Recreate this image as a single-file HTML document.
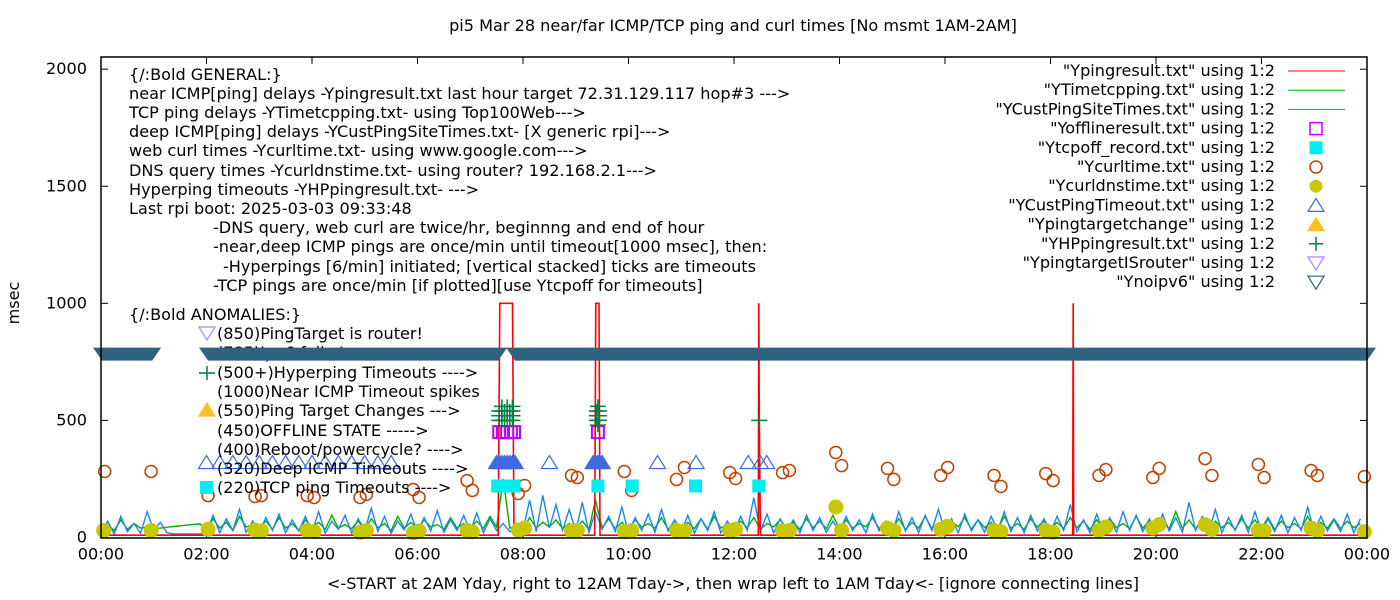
<!DOCTYPE html>
<html><head><meta charset="utf-8"><title>pi5 ping chart</title>
<style>
html,body{margin:0;padding:0;background:#fff;}
svg{display:block;font-family:"DejaVu Sans","Liberation Sans",sans-serif;}
text{fill:#000;}
</style></head>
<body>
<svg id="chart" width="1400" height="600" viewBox="0 0 1400 600" xmlns="http://www.w3.org/2000/svg">
<rect x="0" y="0" width="1400" height="600" fill="#fff"/>
<text x="733" y="31" font-size="16.1" text-anchor="middle">pi5 Mar 28  near/far ICMP/TCP ping and curl times [No msmt 1AM-2AM]</text>
<text x="733" y="589" font-size="16.1" text-anchor="middle">&lt;-START at 2AM Yday, right to 12AM Tday-&gt;, then wrap left to 1AM Tday&lt;- [ignore connecting lines]</text>
<text x="19" y="303" font-size="16.1" text-anchor="middle" transform="rotate(-90 19 303)">msec</text>
<g id="grid"></g>
<g id="series"></g>
<g id="notes" font-size="16.1"></g>
<g id="legend" font-size="16.1"></g>
<rect x="101" y="57" width="1266" height="481" fill="none" stroke="#000" stroke-width="1.5"/>
</svg>
<script>
// ---- data ----
const xTickLabels = ["00:00","02:00","04:00","06:00","08:00","10:00","12:00","14:00","16:00","18:00","20:00","22:00","00:00"];
const yTickValues = [0,500,1000,1500,2000];
// CustPingSiteTimes (blue), 8 samples per hour
const blueVals = [20,70,15,90,25,60,18,110, 30,65,20,15,15,15,15,15, 25,95,20,80,30,120,22,70,
 18,85,30,100,20,75,28,90, 22,110,18,70,35,95,20,80, 30,125,25,90,18,70,32,100,
 20,85,28,115,22,75,30,95, 25,105,20,80,30,60,25,40, 30,160,25,180,40,140,30,120,
 28,150,22,110,35,90,25,130, 20,85,30,100,22,120,28,75, 25,95,18,80,30,110,20,70,
 22,90,30,170,25,100,20,80, 28,75,20,95,30,85,22,70, 25,90,30,75,20,100,28,65,
 22,110,28,85,20,95,30,120, 25,80,20,100,28,75,22,90, 30,110,25,85,20,95,28,80,
 22,90,30,140,25,75,20,100, 28,85,22,110,30,95,25,80, 20,100,28,85,22,150,30,90,
 25,120,20,85,30,95,22,110, 28,80,25,95,20,85,30,130, 22,90,28,75,25,100,20,80];
// Timetcpping (green)
const greenVals = [40,55,30,75,35,60,40,45, 38,40,44,47,50,53,56,58, 35,80,40,65,30,90,45,55,
 42,70,35,85,40,60,30,75, 45,65,35,95,40,55,38,70, 35,80,42,60,30,90,40,65,
 38,75,45,55,35,85,40,60, 42,70,38,90,45,250,40,55, 35,85,40,65,45,75,38,60,
 40,70,35,160,42,80,38,65, 35,75,45,60,40,85,35,70, 42,65,38,80,35,90,40,55,
 38,70,42,85,35,60,45,75, 40,65,35,80,42,70,38,95, 35,75,40,60,45,85,38,70,
 42,80,35,65,40,90,38,60, 40,70,45,85,35,75,42,65, 38,90,40,60,35,80,45,70,
 40,65,38,85,42,70,35,75, 35,80,42,60,38,90,40,70, 45,65,38,110,40,75,35,85,
 38,70,42,65,35,80,40,75, 40,85,35,70,42,60,38,90, 35,65,40,80,38,70,42,60];
// Ypingresult (red) explicit points
const redHours = [0,7.53,7.56,7.80,7.83,9.36,9.38,9.44,9.46,12.46,12.47,12.48,12.50,12.51,18.42,18.43,18.44,24];
const redVals  = [10,10,1000,1000,10,10,1000,1000,10,10,1000,500,10,10,10,1000,10,10];
// Ycurltime (brown circles)
const curlHours = [0.07,0.95,2.03,2.92,3.04,3.91,4.04,4.91,5.03,5.92,6.03,6.94,7.04,7.91,8.03,8.92,9.03,9.92,10.06,10.91,11.06,11.92,12.03,12.92,13.05,13.93,14.04,14.91,15.03,15.92,16.05,16.93,17.06,17.91,18.05,18.92,19.05,19.94,20.06,20.93,21.06,21.94,22.05,22.94,23.06,23.95];
const curlVals  = [282,282,179,175,179,179,171,171,184,205,171,243,201,188,222,265,256,282,201,248,299,277,252,277,286,363,307,295,248,265,299,265,218,273,243,265,290,256,295,337,265,312,256,286,265,260];
// Ycurldnstime (yellow dots)
const dnsHours = [0.05,0.95,2.03,2.92,3.04,3.91,4.04,4.91,5.03,5.92,6.03,6.94,7.04,7.91,8.03,8.92,9.03,9.92,10.06,10.91,11.06,11.92,12.03,12.92,13.05,13.93,14.04,14.91,15.03,15.92,16.05,16.93,17.06,17.91,18.05,18.92,19.05,19.94,20.06,20.93,21.06,21.94,22.05,22.94,23.06,23.95];
const dnsVals  = [30,30,35,32,28,30,25,22,30,20,28,30,24,32,40,28,30,25,30,30,28,30,35,28,30,130,30,40,30,35,48,30,25,30,22,30,45,40,55,55,35,30,28,40,30,25];
// YCustPingTimeout (blue triangles) at 320
const cptHours = [2.0,2.25,2.5,2.75,3.0,3.25,3.5,3.75,4.0,4.25,4.5,4.75,5.0,5.25,5.5,7.5,7.55,7.6,7.65,7.7,7.75,7.8,7.85,8.5,9.33,9.38,9.42,9.46,9.5,10.55,11.28,12.27,12.5,12.62];
const cptVals  = [320,320,320,320,320,320,320,320,320,320,320,320,320,320,320,320,320,320,320,320,320,320,320,320,320,320,320,320,320,320,320,320,320,320];
const cptFilled = [0,0,0,0,0,0,0,0,0,0,0,0,0,0,0,1,1,1,1,1,1,1,1,0,1,1,1,1,1,0,0,0,0,0];
// Ytcpoff (cyan squares) at 220
const tcpoffHours = [7.52,7.6,7.68,7.76,7.83,9.42,10.07,11.27,12.47];
const tcpoffVals  = [220,220,220,220,220,220,220,220,220];
// Yofflineresult (magenta squares) at 450
const offHours = [7.55,7.62,7.70,7.77,7.83,9.42];
const offVals  = [450,450,450,450,450,450];
// YHPpingresult (green plus)
const hpHours = [7.55,7.6,7.65,7.7,7.75,7.8,7.55,7.6,7.65,7.7,7.75,7.8,7.55,7.6,7.65,7.7,7.75,7.8,7.6,7.7,7.8,9.4,9.44,9.4,9.44,9.4,9.44,9.42,9.42,12.48];
const hpVals  = [500,500,500,500,500,500,520,520,520,520,520,520,540,540,540,540,540,540,560,560,560,500,500,520,520,540,540,560,480,500];
// Ynoipv6 runs at 785 (dense once-per-minute points)
const noipv6Runs = [[0.02,0.97],[2.03,7.53],[7.85,24.0]];
const noipv6Val = 785;

// ---- scales ----
const X0=101, X1=1367, Y0=537.5, YTOP=57, YMAX=2052;
function xs(h){return X0+(X1-X0)*h/24;}
function ys(v){return Y0-(Y0-YTOP)*v/YMAX;}
const NS="http://www.w3.org/2000/svg";
function mk(tag,attrs,parent){const e=document.createElementNS(NS,tag);for(const k in attrs)e.setAttribute(k,attrs[k]);parent.appendChild(e);return e;}

const grid=document.getElementById('grid');
const series=document.getElementById('series');
const notes=document.getElementById('notes');
const legend=document.getElementById('legend');

xTickLabels.forEach((lab,i)=>{
  const x=xs(i*2);
  const t=mk('line',{x1:x,x2:x,y1:Y0,y2:Y0-7,stroke:'#000'},grid);
  
  
  const t2=mk('line',{x1:x,x2:x,y1:YTOP,y2:YTOP+7,stroke:'#000'},grid);
  
  
  const tx=mk('text',{x:x,y:Y0+22,'font-size':16.1,'text-anchor':'middle'},grid);
  tx.textContent=lab;
  
  
});
yTickValues.forEach(v=>{
  const y=ys(v);
  const t=mk('line',{x1:X0,x2:X0+7,y1:y,y2:y,stroke:'#000'},grid);
  
  
  const t2=mk('line',{x1:X1,x2:X1-7,y1:y,y2:y,stroke:'#000'},grid);
  
  
  const tx=mk('text',{x:87,y:y+5,'font-size':16.1,'text-anchor':'end'},grid);
  tx.textContent=String(v);
  
  
});

function pl(hs,vs,color,name,w){
  const pts=hs.map((h,i)=>xs(h).toFixed(1)+','+ys(vs[i]).toFixed(1)).join(' ');
  const e=mk('polyline',{points:pts,fill:'none',stroke:color,'stroke-width':w||1},series);
  
  
}
const n=blueVals.length;
pl(greenVals.map((v,i)=>i*24/greenVals.length),greenVals,'#00b000','tcp-ping-line',1.4);
pl(blueVals.map((v,i)=>i*24/n),blueVals,'#1a86f0','deep-icmp-line',1.4);
pl(redHours,redVals,'#ff0000','near-icmp-line',1.6);

curlHours.forEach((h,i)=>{
  const c=mk('circle',{cx:xs(h),cy:ys(curlVals[i]),r:6,fill:'none',stroke:'#c04000','stroke-width':1.5},series);
  
  
});
dnsHours.forEach((h,i)=>{
  const c=mk('circle',{cx:xs(h),cy:ys(dnsVals[i]),r:7.5,fill:'#c8c800'},series);
  
  
});
function tri(x,y,up,fill,stroke,parent){
  const pts= up? `${x-8},${y+6} ${x+8},${y+6} ${x},${y-7}` : `${x-8},${y-6} ${x+8},${y-6} ${x},${y+7}`;
  return mk('polygon',{points:pts,fill:fill,stroke:stroke,'stroke-width':1.2},parent);
}
cptHours.forEach((h,i)=>{
  const t=tri(xs(h),ys(cptVals[i]),true,cptFilled[i]?'#4169e1':'none','#4169e1',series);
  
  
});
tcpoffHours.forEach((h,i)=>{
  const r=mk('rect',{x:xs(h)-6.5,y:ys(tcpoffVals[i])-6.5,width:13,height:13,fill:'#00eeee'},series);
  
  
});
offHours.forEach((h,i)=>{
  const r=mk('rect',{x:xs(h)-6,y:ys(offVals[i])-6,width:12,height:12,fill:'none',stroke:'#c000ff','stroke-width':2},series);
  
  
});
hpHours.forEach((h,i)=>{
  const x=xs(h), y=ys(hpVals[i]);
  const p=mk('path',{d:`M${x-8},${y}H${x+8}M${x},${y-7}V${y+7}`,stroke:'#007f3f','stroke-width':1.5,fill:'none'},series);
  
  
});

const noteLines=[
 [129,75,'{/:Bold GENERAL:}'],
 [129,94,'near ICMP[ping] delays -Ypingresult.txt last hour target 72.31.129.117 hop#3 --->'],
 [129,113,'TCP ping delays -YTimetcpping.txt- using Top100Web--->'],
 [129,132,'deep ICMP[ping] delays -YCustPingSiteTimes.txt- [X generic rpi]--->'],
 [129,151,'web curl times -Ycurltime.txt- using www.google.com--->'],
 [129,171,'DNS query times -Ycurldnstime.txt- using router? 192.168.2.1--->'],
 [129,190,'Hyperping timeouts -YHPpingresult.txt- --->'],
 [129,209,'Last rpi boot: 2025-03-03 09:33:48'],
 [213,228,'-DNS query, web curl are twice/hr, beginnng and end of hour'],
 [213,247,'-near,deep ICMP pings are once/min until timeout[1000 msec], then:'],
 [223,267,'-Hyperpings [6/min] initiated; [vertical stacked] ticks are timeouts'],
 [213,286,'-TCP pings are once/min [if plotted][use Ytcpoff for timeouts]'],
 [129,315,'{/:Bold ANOMALIES:}'],
 [217,334,'(850)PingTarget is router!'],
 [217,353,'(785)Ipv6 fails !'],
 [217,373,'(500+)Hyperping Timeouts ---->'],
 [217,392,'(1000)Near ICMP Timeout spikes'],
 [217,411,'(550)Ping Target Changes --->'],
 [217,431,'(450)OFFLINE STATE ----->'],
 [217,450,'(400)Reboot/powercycle? ---->'],
 [217,469,'(320)Deep ICMP Timeouts ---->'],
 [217,488,'(220)TCP ping Timeouts ---->']
];
noteLines.forEach(l=>{
  const t=mk('text',{x:l[0],y:l[1]+5},notes);
  t.textContent=l[2];
  
  
});
let s=tri(207,333,false,'none','#b080ff',notes);


s=mk('path',{d:'M199,373H215M207,366V380',stroke:'#007f3f','stroke-width':1.5},notes);


s=tri(207,410,true,'#ffc020','#ffc020',notes);


s=mk('rect',{x:200,y:481,width:13,height:13,fill:'#00eeee'},notes);



noipv6Runs.forEach(r=>{
  const a=xs(r[0]), b=xs(r[1]), yc=ys(noipv6Val);
  const p=mk('polygon',{points:`${a-9},${yc-6} ${b+9},${yc-6} ${b},${yc+7} ${a},${yc+7}`,fill:'#30617f'},notes);
  
  
});

const legendLabels=['"Ypingresult.txt" using 1:2','"YTimetcpping.txt" using 1:2','"YCustPingSiteTimes.txt" using 1:2','"Yofflineresult.txt" using 1:2','"Ytcpoff_record.txt" using 1:2','"Ycurltime.txt" using 1:2','"Ycurldnstime.txt" using 1:2','"YCustPingTimeout.txt" using 1:2','"Ypingtargetchange" using 1:2','"YHPpingresult.txt" using 1:2','"YpingtargetISrouter" using 1:2','"Ynoipv6" using 1:2'];
legendLabels.forEach((lab,i)=>{
  const y=71+19.2*i;
  const t=mk('text',{x:1275,y:y+5,'text-anchor':'end'},legend);
  t.textContent=lab;
  
  
  let m;
  const cx=1316;
  if(i<3){m=mk('line',{x1:1288,x2:1345,y1:y,y2:y,stroke:['#ff0000','#00b000','#1a86f0'][i]},legend);}
  else if(i===3){m=mk('rect',{x:cx-6,y:y-6,width:12,height:12,fill:'none',stroke:'#c000ff','stroke-width':1.5},legend);}
  else if(i===4){m=mk('rect',{x:cx-6.5,y:y-6.5,width:13,height:13,fill:'#00eeee'},legend);}
  else if(i===5){m=mk('circle',{cx:cx,cy:y,r:6,fill:'none',stroke:'#c04000','stroke-width':1.5},legend);}
  else if(i===6){m=mk('circle',{cx:cx,cy:y,r:6.5,fill:'#c8c800'},legend);}
  else if(i===7){m=tri(cx,y,true,'none','#4169e1',legend);}
  else if(i===8){m=tri(cx,y,true,'#ffc020','#ffc020',legend);}
  else if(i===9){m=mk('path',{d:`M${cx-7},${y}H${cx+7}M${cx},${y-7}V${y+7}`,stroke:'#007f3f','stroke-width':1.5},legend);}
  else if(i===10){m=tri(cx,y,false,'none','#b080ff',legend);}
  else {m=tri(cx,y,false,'none','#30617f',legend);}
  
  
});
</script>
</body></html>
